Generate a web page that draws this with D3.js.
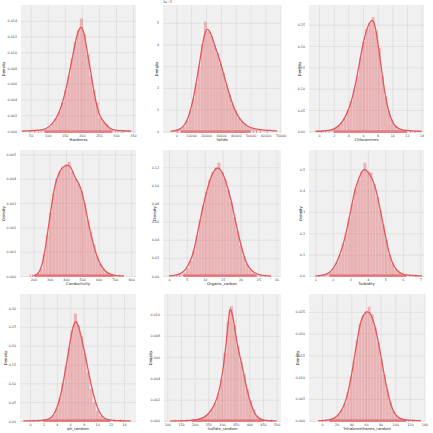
<!DOCTYPE html>
<html>
<head>
<meta charset="utf-8">
<script src="https://cdn.jsdelivr.net/npm/d3@7"></script>
<style>
  body { margin: 0; background: #fff; }
  svg { display: block; font-family: "DejaVu Sans", sans-serif; }
</style>
</head>
<body>
<script>
// ---- data ----
// columns, in the order of the grid
var columns = ["Hardness", "Solids", "Chloramines", "Conductivity", "Organic_carbon",
  "Turbidity", "ph_random", "Sulfate_random", "Trihalomethanes_random"];

// histogram: [first edge, last edge] of the bins, then bar densities
var hardnessBins = [47, 323];
var hardnessHist = [0.00003, 0.00005, 0.00008, 0.0001, 0.00015, 0.0003, 0.00055, 0.001, 0.0016, 0.0025,
  0.0036, 0.0052, 0.0070, 0.0092, 0.0113, 0.0128, 0.0143, 0.0123, 0.0097, 0.0070,
  0.0052, 0.0036, 0.0017, 0.0012, 0.0009, 0.0004, 0.0002, 0.0001, 0.00005, 0.00003];
var hardnessKde = [[25, 0], [40, 0.00003], [60, 0.00006], [87, 0.00013], [106.5, 0.00055], [126, 0.0016], [140.6, 0.0031],
  [155.2, 0.0056], [165, 0.0077], [174.7, 0.0099], [184.4, 0.012], [192.2, 0.013], [199, 0.0133],
  [205.8, 0.0126], [213.6, 0.0107], [223.4, 0.0082], [233, 0.0056], [243, 0.0033], [252.6, 0.0018],
  [267.2, 0.001], [281.8, 0.0003], [296.4, 0.0001], [320.8, 0.00003], [345, 0]];
var hardnessRug = [90, 290];
var hardnessRugOut = [47, 62, 73, 81, 298, 306, 317, 323];

var solidsBins = [320, 61227];   // densities in units of 1e-5
var solidsHist = [0.08, 0.14, 0.22, 0.5, 0.95, 1.5, 2.2, 3.0, 4.0, 5.05,
  4.6, 4.4, 4.0, 3.6, 3.1, 2.7, 2.15, 1.7, 1.25, 0.95,
  0.62, 0.45, 0.3, 0.22, 0.15, 0.1, 0.07, 0.05, 0.04, 0.03];
var solidsKde = [[-3800, 0], [670, 0.03], [5140, 0.2], [8500, 0.66], [11850, 1.58], [14090, 2.51], [16320, 3.43],
  [18110, 4.2], [19680, 4.63], [20800, 4.72], [22140, 4.66], [24150, 4.35], [25710, 3.97], [27950, 3.58],
  [30860, 2.89], [34210, 2.05], [37570, 1.28], [40920, 0.74], [44270, 0.43], [47630, 0.23],
  [52100, 0.11], [58810, 0.05], [67750, 0.015]];
var solidsRug = [3000, 50000];
var solidsRugOut = [320, 1200, 52000, 54000, 56500, 61200];

var chloraminesBins = [0.35, 13.13];
var chloraminesHist = [0.001, 0.0015, 0.002, 0.004, 0.008, 0.013, 0.02, 0.031, 0.05, 0.071,
  0.098, 0.13, 0.172, 0.21, 0.24, 0.255, 0.268, 0.235, 0.195, 0.13,
  0.082, 0.048, 0.028, 0.014, 0.007, 0.004, 0.002, 0.0015, 0.001, 0.001];
var chloraminesKde = [[-0.5, 0], [0.32, 0.0005], [1.69, 0.0024], [2.14, 0.0063], [2.83, 0.0142], [3.51, 0.03], [4.2, 0.0576],
  [4.65, 0.0852], [5.1, 0.12], [5.56, 0.164], [6.02, 0.207], [6.48, 0.239], [6.93, 0.2555], [7.25, 0.2618],
  [7.52, 0.2571], [7.84, 0.2311], [8.16, 0.1917], [8.53, 0.1443], [8.98, 0.0891], [9.44, 0.0497],
  [9.9, 0.026], [10.35, 0.0118], [11.04, 0.0047], [11.72, 0.0016], [13.09, 0.0005], [14, 0]];
var chloraminesRug = [2, 12];
var chloraminesRugOut = [0.35, 0.9, 1.4, 12.5, 13.1];

var conductivityBins = [181, 753];
var conductivityHist = [0.00001, 0.00002, 0.00008, 0.0003, 0.0009, 0.0017, 0.0026, 0.0034, 0.0040, 0.0043,
  0.0045, 0.0046, 0.0047, 0.0043, 0.0040, 0.0038, 0.0035, 0.0030, 0.0023, 0.0018,
  0.0013, 0.0008, 0.0005, 0.0003, 0.00015, 0.00008, 0.00005, 0.00003, 0.00002, 0.00001];
var conductivityKde = [[200, 0], [230.7, 0.000082], [251, 0.00036], [271.7, 0.00104], [292, 0.00199], [312.6, 0.00296],
  [333, 0.00378], [353.6, 0.00419], [374, 0.00444], [394.6, 0.00453], [415, 0.00457], [431.4, 0.00449],
  [450, 0.00412], [470, 0.00389], [486.7, 0.00371], [507, 0.00323], [527.7, 0.00254], [548, 0.00185],
  [568.6, 0.0013], [589, 0.00082], [609.6, 0.00048], [640, 0.00019], [671, 0.000068], [701.8, 0.000014], [753, 0]];
var conductivityRug = [210, 690];
var conductivityRugOut = [181, 195, 700, 730, 753];

var organicBins = [2.2, 28.3];
var organicHist = [0.0008, 0.0018, 0.004, 0.0085, 0.017, 0.028, 0.045, 0.062, 0.078, 0.093,
  0.106, 0.115, 0.12, 0.125, 0.115, 0.107, 0.095, 0.082, 0.065, 0.05,
  0.034, 0.022, 0.013, 0.0075, 0.0038, 0.0018, 0.0008, 0.0004, 0.0002, 0.0002];
var organicKde = [[0, 0], [1.4, 0.0004], [3.26, 0.0022], [4.66, 0.0066], [6.06, 0.0169], [6.99, 0.028], [7.92, 0.0464],
  [8.85, 0.0648], [9.78, 0.0814], [10.71, 0.0961], [11.65, 0.109], [12.58, 0.1163], [13.32, 0.1193],
  [14.07, 0.1189], [14.91, 0.1145], [15.84, 0.1053], [16.77, 0.0924], [17.7, 0.0777], [18.63, 0.0593],
  [19.57, 0.0427], [20.5, 0.028], [21.43, 0.0162], [22.36, 0.0088], [23.76, 0.0033], [25.62, 0.0007], [28.4, 0]];
var organicRug = [4, 24.5];
var organicRugOut = [2.2, 2.9, 25.5, 27, 28.3];

var turbidityBins = [1.45, 6.74];
var turbidityHist = [0.004, 0.012, 0.02, 0.038, 0.065, 0.1, 0.15, 0.2, 0.27, 0.34,
  0.41, 0.45, 0.49, 0.53, 0.49, 0.485, 0.43, 0.37, 0.31, 0.24,
  0.17, 0.1, 0.06, 0.03, 0.018, 0.009, 0.005, 0.003, 0.001, 0.001];
var turbidityKde = [[1.0, 0], [1.34, 0.0016], [1.63, 0.0063], [1.91, 0.0219], [2.2, 0.0563], [2.49, 0.1188], [2.68, 0.1734],
  [2.87, 0.2438], [3.06, 0.3219], [3.25, 0.4], [3.44, 0.4469], [3.63, 0.4859], [3.78, 0.5016],
  [3.93, 0.4938], [4.1, 0.4781], [4.3, 0.4469], [4.49, 0.4], [4.68, 0.3219], [4.87, 0.2438],
  [5.06, 0.1656], [5.25, 0.0953], [5.44, 0.0531], [5.63, 0.0281], [5.91, 0.0094], [6.3, 0.0031], [6.77, 0.0005], [7.1, 0]];
var turbidityRug = [1.8, 6.2];
var turbidityRugOut = [1.45, 1.6, 6.4, 6.74];

var phBins = [0, 14];
var phHist = [0.001, 0.001, 0.001, 0.001, 0.002, 0.003, 0.007, 0.016, 0.033, 0.06,
  0.1, 0.145, 0.195, 0.24, 0.285, 0.255, 0.225, 0.18, 0.13, 0.085,
  0.05, 0.027, 0.014, 0.007, 0.004, 0.002, 0.001, 0.001, 0.0015, 0.001];
var phKde = [[-1, 0], [1.49, 0.0004], [2.48, 0.0026], [3.23, 0.0088], [3.72, 0.0221], [4.22, 0.0441], [4.72, 0.0794],
  [5.21, 0.1279], [5.71, 0.1809], [6.06, 0.2206], [6.36, 0.2471], [6.75, 0.2674], [7.05, 0.2594],
  [7.45, 0.2382], [7.94, 0.1985], [8.44, 0.1544], [8.94, 0.1103], [9.43, 0.0706], [9.93, 0.0397],
  [10.43, 0.0194], [10.92, 0.0088], [11.42, 0.0035], [12.41, 0.0009], [13.5, 0.0006], [15, 0]];
var phRug = [2, 12];
var phRugOut = [0, 0.5, 1.2, 12.6, 13.5, 14];

var sulfateBins = [129, 481];
var sulfateHist = [0.00002, 0.00003, 0.00004, 0.00005, 0.00007, 0.0001, 0.00012, 0.0002, 0.00028, 0.0005,
  0.0007, 0.0011, 0.0017, 0.0026, 0.0039, 0.0064, 0.0093, 0.0108, 0.0090, 0.0071,
  0.0056, 0.0044, 0.0030, 0.0019, 0.0011, 0.0005, 0.00025, 0.0001, 0.00005, 0.00002];
var sulfateKde = [[110, 0], [173, 0.00003], [209.8, 0.000094], [234, 0.00031], [252.4, 0.00069], [270.7, 0.0014],
  [282.9, 0.0022], [295.1, 0.0034], [304.9, 0.005], [312.2, 0.0066], [319.5, 0.0084], [325.6, 0.01],
  [329.3, 0.0106], [334.1, 0.0104], [341.5, 0.0097], [350, 0.0081], [358.5, 0.0069], [368.3, 0.0058],
  [378, 0.0047], [387.8, 0.0034], [398.8, 0.0022], [411, 0.0012], [423.2, 0.00053], [435.4, 0.00022],
  [453.7, 0.00006], [478, 0.00001], [500, 0]];
var sulfateRug = [190, 455];
var sulfateRugOut = [129, 150, 170, 465, 481];

var thmBins = [0.74, 124];
var thmHist = [0.00005, 0.0001, 0.0002, 0.0004, 0.0008, 0.0015, 0.0026, 0.004, 0.0066, 0.0101,
  0.0138, 0.0185, 0.0222, 0.0242, 0.0252, 0.0262, 0.0245, 0.0215, 0.018, 0.0143,
  0.0105, 0.0072, 0.0043, 0.0023, 0.0013, 0.0007, 0.0004, 0.0002, 0.0001, 0.00005];
var thmKde = [[-5, 0], [3.6, 0.00005], [12.6, 0.00023], [19.4, 0.00077], [26.1, 0.0021], [31.5, 0.004], [36, 0.0068],
  [40.5, 0.0106], [45, 0.0153], [49.5, 0.0199], [53.1, 0.023], [56.7, 0.0244], [60.3, 0.025],
  [63.9, 0.025], [66.6, 0.0244], [70.2, 0.023], [73.8, 0.0207], [78.3, 0.0169], [82.8, 0.0126],
  [87.3, 0.0084], [91.8, 0.005], [96.3, 0.0025], [100.8, 0.0012], [107.1, 0.00038], [116.2, 0.00008], [135, 0]];
var thmRug = [10, 115];
var thmRugOut = [0.74, 5, 118, 124];

// axis limits and tick values
var xLimits = [[21.6, 358.8], [-8900, 70400], [-1.37, 14.33], [118, 830], [-1.68, 31.3],
  [0.64, 7.21], [-1.49, 15.79], [88, 516], [-17.8, 140.7]];
var yLimits = [[-0.00025, 0.016], [-0.08, 5.82], [-0.004, 0.296], [-0.00004, 0.00518], [-0.0011, 0.139],
  [-0.005, 0.59], [-0.0028, 0.337], [-0.0001, 0.01194], [-0.0003, 0.0291]];
var xTicks = [d3.range(50, 351, 50), d3.range(0, 70001, 10000), d3.range(0, 15, 2), d3.range(200, 801, 100),
  d3.range(0, 31, 5), d3.range(1, 8, 1), d3.range(0, 15, 2), d3.range(100, 501, 50), d3.range(0, 141, 20)];
var yTicks = [d3.range(0, 0.0141, 0.002), d3.range(0, 5.1, 1), d3.range(0, 0.251, 0.05), d3.range(0, 0.00501, 0.001),
  d3.range(0, 0.121, 0.02), d3.range(0, 0.51, 0.1), d3.range(0, 0.301, 0.05), d3.range(0, 0.0101, 0.002),
  d3.range(0, 0.0251, 0.005)];
var yFormats = [".3f", "d", ".2f", ".3f", ".2f", ".1f", ".2f", ".3f", ".3f"];

// ---- layout ----
var W = 433, H = 433;
// plot rectangles [left, top, right, bottom]
var rects = [[21, 5, 136, 133], [163, 5, 281, 133], [309, 5, 424, 133],
  [20, 150, 136, 277], [163, 150, 281, 277], [309, 150, 424, 277],
  [20, 294, 136, 422], [164, 294, 281, 422], [309, 294, 425, 422]];
// x position of the "Density" label of each panel
var yLabelX = [4, 156.5, 299.5, 4, 154.5, 300.5, 6, 150.5, 297.5];

var hists = [hardnessHist, solidsHist, chloraminesHist, conductivityHist, organicHist, turbidityHist, phHist, sulfateHist, thmHist];
var binRanges = [hardnessBins, solidsBins, chloraminesBins, conductivityBins, organicBins, turbidityBins, phBins, sulfateBins, thmBins];
var kdes = [hardnessKde, solidsKde, chloraminesKde, conductivityKde, organicKde, turbidityKde, phKde, sulfateKde, thmKde];
var rugs = [hardnessRug, solidsRug, chloraminesRug, conductivityRug, organicRug, turbidityRug, phRug, sulfateRug, thmRug];
var rugOuts = [hardnessRugOut, solidsRugOut, chloraminesRugOut, conductivityRugOut, organicRugOut, turbidityRugOut, phRugOut, sulfateRugOut, thmRugOut];

var lineColor = "#e0585c";
var bg = "#f0f0f0", gridColor = "#d6d6d6", textColor = "#444";
var fs = 3.3;

var svg = d3.select("body").append("svg")
  .attr("width", W)
  .attr("height", H);

svg.append("rect").attr("width", W).attr("height", H).attr("fill", "#fff");

columns.forEach(function(name, i) {
  var r = rects[i];
  var w = r[2] - r[0], h = r[3] - r[1];
  var g = svg.append("g").attr("transform", "translate(" + r[0] + "," + r[1] + ")");

  var x = d3.scaleLinear().domain(xLimits[i]).range([0, w]);
  var y = d3.scaleLinear().domain(yLimits[i]).range([h, 0]);

  g.append("rect").attr("width", w).attr("height", h).attr("fill", bg);

  // grid
  var gx = g.append("g").attr("transform", "translate(0," + h + ")")
    .call(d3.axisBottom(x).tickValues(xTicks[i]).tickSize(-h).tickFormat(""));
  var gy = g.append("g")
    .call(d3.axisLeft(y).tickValues(yTicks[i]).tickSize(-w).tickFormat(""));
  [gx, gy].forEach(function(a) {
    a.select(".domain").remove();
    a.selectAll("line").attr("stroke", gridColor).attr("stroke-width", 0.6);
  });

  var clip = g.append("g");

  // histogram bars
  var br = binRanges[i], nb = hists[i].length;
  var bw = (br[1] - br[0]) / nb;
  clip.selectAll("rect.bar")
    .data(hists[i])
    .enter()
    .append("rect")
    .attr("class", "bar")
    .attr("x", function(d, j) { return x(br[0] + j * bw); })
    .attr("width", function(d, j) { return x(br[0] + (j + 1) * bw) - x(br[0] + j * bw); })
    .attr("y", function(d) { return y(d); })
    .attr("height", function(d) { return y(0) - y(d); })
    .attr("fill", lineColor)
    .attr("fill-opacity", 0.4)
    .attr("stroke", "#f4f4f4")
    .attr("stroke-opacity", 0.5)
    .attr("stroke-width", 0.25);

  // rug
  var rugH = 2.6;
  clip.append("rect")
    .attr("x", x(rugs[i][0]))
    .attr("width", x(rugs[i][1]) - x(rugs[i][0]))
    .attr("y", h - rugH)
    .attr("height", rugH)
    .attr("fill", lineColor)
    .attr("fill-opacity", 0.7);
  clip.selectAll("line.rug")
    .data(rugOuts[i])
    .enter()
    .append("line")
    .attr("class", "rug")
    .attr("x1", function(d) { return x(d); })
    .attr("x2", function(d) { return x(d); })
    .attr("y1", h)
    .attr("y2", h - rugH)
    .attr("stroke", lineColor)
    .attr("stroke-width", 0.5);

  // kde line
  var line = d3.line()
    .x(function(d) { return x(d[0]); })
    .y(function(d) { return y(d[1]); })
    .curve(d3.curveBasis);
  clip.append("path")
    .datum(kdes[i])
    .attr("d", line)
    .attr("fill", "none")
    .attr("stroke", lineColor)
    .attr("stroke-width", 1.3);

  // tick labels
  var xa = g.append("g").attr("transform", "translate(0," + h + ")")
    .call(d3.axisBottom(x).tickValues(xTicks[i]).tickSize(0).tickPadding(1.2).tickFormat(d3.format("d")));
  var ya = g.append("g")
    .call(d3.axisLeft(y).tickValues(yTicks[i]).tickSize(0).tickPadding(4).tickFormat(d3.format(yFormats[i])));
  [xa, ya].forEach(function(a) {
    a.select(".domain").remove();
    a.selectAll("text").attr("font-size", fs).attr("fill", textColor).attr("font-family", "DejaVu Sans");
  });

  // axis labels
  g.append("text")
    .attr("x", w / 2)
    .attr("y", h + 8.3)
    .attr("text-anchor", "middle")
    .attr("font-size", 3.8)
    .attr("fill", "#222")
    .text(name);
  g.append("text")
    .attr("transform", "translate(" + (yLabelX[i] - r[0] + 1.4) + "," + (h / 2) + ") rotate(-90)")
    .attr("text-anchor", "middle")
    .attr("font-size", 3.8)
    .attr("fill", "#222")
    .text("Density");

  if (name === "Solids") {
    g.append("text")
      .attr("x", 0)
      .attr("y", -1.6)
      .attr("font-size", fs)
      .attr("fill", textColor)
      .text("1e\u22125");
  }
});
</script>
</body>
</html>
